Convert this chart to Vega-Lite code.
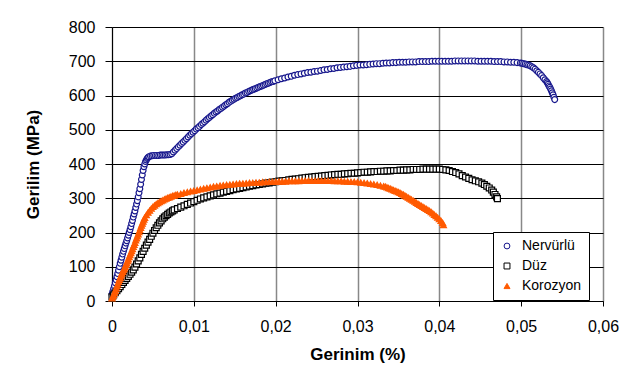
{
  "$schema": "https://vega.github.io/schema/vega-lite/v6.json",
  "width": 491,
  "height": 274,
  "autosize": {"type": "none"},
  "padding": {"left": 112, "top": 27, "right": 29, "bottom": 77},
  "background": "white",
  "config": {
    "font": "Liberation Sans",
    "view": {"stroke": null},
    "axis": {"labelFont": "Liberation Sans", "titleFont": "Liberation Sans", "labelColor": "black", "titleColor": "black", "domainColor": "black", "tickColor": "black", "labelFontSize": 16, "titleFontSize": 17, "titleFontWeight": "bold"},
    "legend": {"strokeColor": "black", "fillColor": "white", "padding": 7, "labelFont": "Liberation Sans", "labelFontSize": 14, "labelColor": "black", "symbolStrokeWidth": 1, "rowPadding": 6, "labelOffset": 8, "cornerRadius": 0}
  },
  "data": {"values": [
{"s":"Nervürlü","x":0,"y":20},{"s":"Nervürlü","x":0.0001,"y":28},{"s":"Nervürlü","x":0.0002,"y":36},{"s":"Nervürlü","x":0.0003,"y":44},{"s":"Nervürlü","x":0.0004,"y":53},{"s":"Nervürlü","x":0.0005,"y":62},{"s":"Nervürlü","x":0.0006,"y":71},{"s":"Nervürlü","x":0.0007,"y":80},{"s":"Nervürlü","x":0.0008,"y":90},{"s":"Nervürlü","x":0.0009,"y":100},{"s":"Nervürlü","x":0.001,"y":110},{"s":"Nervürlü","x":0.0011,"y":119},{"s":"Nervürlü","x":0.0012,"y":128},{"s":"Nervürlü","x":0.0013,"y":137},{"s":"Nervürlü","x":0.0014,"y":145},{"s":"Nervürlü","x":0.0015,"y":153},{"s":"Nervürlü","x":0.0016,"y":161},{"s":"Nervürlü","x":0.0017,"y":169},{"s":"Nervürlü","x":0.0018,"y":176},{"s":"Nervürlü","x":0.0019,"y":184},{"s":"Nervürlü","x":0.002,"y":192},{"s":"Nervürlü","x":0.0021,"y":200},{"s":"Nervürlü","x":0.0022,"y":208},{"s":"Nervürlü","x":0.0023,"y":217},{"s":"Nervürlü","x":0.0024,"y":226},{"s":"Nervürlü","x":0.0025,"y":235},{"s":"Nervürlü","x":0.0026,"y":245},{"s":"Nervürlü","x":0.0027,"y":254},{"s":"Nervürlü","x":0.0028,"y":263},{"s":"Nervürlü","x":0.0029,"y":273},{"s":"Nervürlü","x":0.003,"y":283},{"s":"Nervürlü","x":0.0031,"y":293},{"s":"Nervürlü","x":0.0032,"y":304},{"s":"Nervürlü","x":0.0033,"y":316},{"s":"Nervürlü","x":0.0034,"y":328},{"s":"Nervürlü","x":0.0035,"y":341},{"s":"Nervürlü","x":0.0036,"y":355},{"s":"Nervürlü","x":0.0037,"y":368},{"s":"Nervürlü","x":0.0038,"y":381},{"s":"Nervürlü","x":0.0039,"y":392},{"s":"Nervürlü","x":0.004,"y":400},{"s":"Nervürlü","x":0.0041,"y":407},{"s":"Nervürlü","x":0.0042,"y":412},{"s":"Nervürlü","x":0.0043,"y":416},{"s":"Nervürlü","x":0.0044,"y":419},{"s":"Nervürlü","x":0.0045,"y":421},{"s":"Nervürlü","x":0.0047,"y":423},{"s":"Nervürlü","x":0.0049,"y":424},{"s":"Nervürlü","x":0.0051,"y":425},{"s":"Nervürlü","x":0.0053,"y":425},{"s":"Nervürlü","x":0.0055,"y":425},{"s":"Nervürlü","x":0.0057,"y":425},{"s":"Nervürlü","x":0.0059,"y":426},{"s":"Nervürlü","x":0.0061,"y":426},{"s":"Nervürlü","x":0.0063,"y":426},{"s":"Nervürlü","x":0.0065,"y":426},{"s":"Nervürlü","x":0.0067,"y":427},{"s":"Nervürlü","x":0.0069,"y":427},{"s":"Nervürlü","x":0.0071,"y":428},{"s":"Nervürlü","x":0.0073,"y":430},{"s":"Nervürlü","x":0.0075,"y":435},{"s":"Nervürlü","x":0.0077,"y":440},{"s":"Nervürlü","x":0.0079,"y":445},{"s":"Nervürlü","x":0.0081,"y":450},{"s":"Nervürlü","x":0.0083,"y":455},{"s":"Nervürlü","x":0.0085,"y":460},{"s":"Nervürlü","x":0.0087,"y":464},{"s":"Nervürlü","x":0.0089,"y":469},{"s":"Nervürlü","x":0.0091,"y":474},{"s":"Nervürlü","x":0.0093,"y":479},{"s":"Nervürlü","x":0.0095,"y":484},{"s":"Nervürlü","x":0.0097,"y":488},{"s":"Nervürlü","x":0.0099,"y":493},{"s":"Nervürlü","x":0.0101,"y":497},{"s":"Nervürlü","x":0.0103,"y":502},{"s":"Nervürlü","x":0.0105,"y":506},{"s":"Nervürlü","x":0.0107,"y":510},{"s":"Nervürlü","x":0.0109,"y":515},{"s":"Nervürlü","x":0.0111,"y":519},{"s":"Nervürlü","x":0.0113,"y":523},{"s":"Nervürlü","x":0.0115,"y":528},{"s":"Nervürlü","x":0.0117,"y":532},{"s":"Nervürlü","x":0.0119,"y":536},{"s":"Nervürlü","x":0.0121,"y":540},{"s":"Nervürlü","x":0.0123,"y":544},{"s":"Nervürlü","x":0.0125,"y":548},{"s":"Nervürlü","x":0.0127,"y":552},{"s":"Nervürlü","x":0.0129,"y":555},{"s":"Nervürlü","x":0.0131,"y":559},{"s":"Nervürlü","x":0.0133,"y":562},{"s":"Nervürlü","x":0.0135,"y":566},{"s":"Nervürlü","x":0.0137,"y":569},{"s":"Nervürlü","x":0.0139,"y":573},{"s":"Nervürlü","x":0.0141,"y":576},{"s":"Nervürlü","x":0.0143,"y":580},{"s":"Nervürlü","x":0.0145,"y":583},{"s":"Nervürlü","x":0.0147,"y":586},{"s":"Nervürlü","x":0.0149,"y":589},{"s":"Nervürlü","x":0.0151,"y":592},{"s":"Nervürlü","x":0.0153,"y":594},{"s":"Nervürlü","x":0.0155,"y":597},{"s":"Nervürlü","x":0.0157,"y":599},{"s":"Nervürlü","x":0.0159,"y":602},{"s":"Nervürlü","x":0.0161,"y":604},{"s":"Nervürlü","x":0.0163,"y":607},{"s":"Nervürlü","x":0.0165,"y":609},{"s":"Nervürlü","x":0.0167,"y":612},{"s":"Nervürlü","x":0.0169,"y":614},{"s":"Nervürlü","x":0.0171,"y":616},{"s":"Nervürlü","x":0.0173,"y":618},{"s":"Nervürlü","x":0.0175,"y":620},{"s":"Nervürlü","x":0.0177,"y":622},{"s":"Nervürlü","x":0.0179,"y":624},{"s":"Nervürlü","x":0.0181,"y":626},{"s":"Nervürlü","x":0.0183,"y":628},{"s":"Nervürlü","x":0.0185,"y":630},{"s":"Nervürlü","x":0.0187,"y":632},{"s":"Nervürlü","x":0.0189,"y":634},{"s":"Nervürlü","x":0.0191,"y":636},{"s":"Nervürlü","x":0.0193,"y":638},{"s":"Nervürlü","x":0.0195,"y":640},{"s":"Nervürlü","x":0.0197,"y":641},{"s":"Nervürlü","x":0.0199,"y":643},{"s":"Nervürlü","x":0.0203,"y":646},{"s":"Nervürlü","x":0.0207,"y":649},{"s":"Nervürlü","x":0.0211,"y":651},{"s":"Nervürlü","x":0.0215,"y":654},{"s":"Nervürlü","x":0.0219,"y":656},{"s":"Nervürlü","x":0.0223,"y":659},{"s":"Nervürlü","x":0.0227,"y":661},{"s":"Nervürlü","x":0.0231,"y":663},{"s":"Nervürlü","x":0.0235,"y":665},{"s":"Nervürlü","x":0.0239,"y":667},{"s":"Nervürlü","x":0.0243,"y":668},{"s":"Nervürlü","x":0.0247,"y":670},{"s":"Nervürlü","x":0.0251,"y":671},{"s":"Nervürlü","x":0.0255,"y":673},{"s":"Nervürlü","x":0.0259,"y":675},{"s":"Nervürlü","x":0.0263,"y":676},{"s":"Nervürlü","x":0.0267,"y":678},{"s":"Nervürlü","x":0.0271,"y":679},{"s":"Nervürlü","x":0.0275,"y":681},{"s":"Nervürlü","x":0.0279,"y":682},{"s":"Nervürlü","x":0.0283,"y":683},{"s":"Nervürlü","x":0.0287,"y":684},{"s":"Nervürlü","x":0.0291,"y":685},{"s":"Nervürlü","x":0.0295,"y":687},{"s":"Nervürlü","x":0.0299,"y":688},{"s":"Nervürlü","x":0.0303,"y":689},{"s":"Nervürlü","x":0.0307,"y":689},{"s":"Nervürlü","x":0.0311,"y":690},{"s":"Nervürlü","x":0.0315,"y":691},{"s":"Nervürlü","x":0.0319,"y":692},{"s":"Nervürlü","x":0.0323,"y":693},{"s":"Nervürlü","x":0.0327,"y":693},{"s":"Nervürlü","x":0.0331,"y":694},{"s":"Nervürlü","x":0.0335,"y":695},{"s":"Nervürlü","x":0.0339,"y":695},{"s":"Nervürlü","x":0.0343,"y":696},{"s":"Nervürlü","x":0.0347,"y":696},{"s":"Nervürlü","x":0.0351,"y":697},{"s":"Nervürlü","x":0.0355,"y":697},{"s":"Nervürlü","x":0.0359,"y":697},{"s":"Nervürlü","x":0.0363,"y":698},{"s":"Nervürlü","x":0.0367,"y":698},{"s":"Nervürlü","x":0.0371,"y":698},{"s":"Nervürlü","x":0.0375,"y":699},{"s":"Nervürlü","x":0.0379,"y":699},{"s":"Nervürlü","x":0.0383,"y":699},{"s":"Nervürlü","x":0.0387,"y":699},{"s":"Nervürlü","x":0.0391,"y":700},{"s":"Nervürlü","x":0.0395,"y":700},{"s":"Nervürlü","x":0.0399,"y":700},{"s":"Nervürlü","x":0.0403,"y":700},{"s":"Nervürlü","x":0.0407,"y":700},{"s":"Nervürlü","x":0.0411,"y":700},{"s":"Nervürlü","x":0.0415,"y":700},{"s":"Nervürlü","x":0.0419,"y":701},{"s":"Nervürlü","x":0.0423,"y":701},{"s":"Nervürlü","x":0.0427,"y":701},{"s":"Nervürlü","x":0.0431,"y":701},{"s":"Nervürlü","x":0.0435,"y":701},{"s":"Nervürlü","x":0.0439,"y":701},{"s":"Nervürlü","x":0.0443,"y":701},{"s":"Nervürlü","x":0.0447,"y":700},{"s":"Nervürlü","x":0.0451,"y":700},{"s":"Nervürlü","x":0.0455,"y":700},{"s":"Nervürlü","x":0.0459,"y":700},{"s":"Nervürlü","x":0.0463,"y":700},{"s":"Nervürlü","x":0.0467,"y":699},{"s":"Nervürlü","x":0.0471,"y":699},{"s":"Nervürlü","x":0.0475,"y":699},{"s":"Nervürlü","x":0.0479,"y":698},{"s":"Nervürlü","x":0.0483,"y":698},{"s":"Nervürlü","x":0.0487,"y":697},{"s":"Nervürlü","x":0.0491,"y":697},{"s":"Nervürlü","x":0.0495,"y":696},{"s":"Nervürlü","x":0.0499,"y":695},{"s":"Nervürlü","x":0.0501,"y":694},{"s":"Nervürlü","x":0.0503,"y":693},{"s":"Nervürlü","x":0.0505,"y":692},{"s":"Nervürlü","x":0.0507,"y":690},{"s":"Nervürlü","x":0.0509,"y":689},{"s":"Nervürlü","x":0.0511,"y":687},{"s":"Nervürlü","x":0.0513,"y":684},{"s":"Nervürlü","x":0.0515,"y":681},{"s":"Nervürlü","x":0.0517,"y":677},{"s":"Nervürlü","x":0.0519,"y":672},{"s":"Nervürlü","x":0.0521,"y":668},{"s":"Nervürlü","x":0.0523,"y":663},{"s":"Nervürlü","x":0.0525,"y":658},{"s":"Nervürlü","x":0.0527,"y":652},{"s":"Nervürlü","x":0.0529,"y":646},{"s":"Nervürlü","x":0.0531,"y":641},{"s":"Nervürlü","x":0.0532,"y":637},{"s":"Nervürlü","x":0.0533,"y":633},{"s":"Nervürlü","x":0.0534,"y":628},{"s":"Nervürlü","x":0.0535,"y":624},{"s":"Nervürlü","x":0.0536,"y":619},{"s":"Nervürlü","x":0.0537,"y":614},{"s":"Nervürlü","x":0.0538,"y":608},{"s":"Nervürlü","x":0.0539,"y":602},{"s":"Nervürlü","x":0.054,"y":595},{"s":"Nervürlü","x":0.0541,"y":588},
{"s":"Düz","x":0,"y":12},{"s":"Düz","x":0.0002,"y":18},{"s":"Düz","x":0.0004,"y":24},{"s":"Düz","x":0.0006,"y":30},{"s":"Düz","x":0.0008,"y":36},{"s":"Düz","x":0.001,"y":42},{"s":"Düz","x":0.0012,"y":48},{"s":"Düz","x":0.0014,"y":54},{"s":"Düz","x":0.0016,"y":60},{"s":"Düz","x":0.0018,"y":66},{"s":"Düz","x":0.002,"y":72},{"s":"Düz","x":0.0022,"y":78},{"s":"Düz","x":0.0024,"y":84},{"s":"Düz","x":0.0026,"y":91},{"s":"Düz","x":0.0028,"y":99},{"s":"Düz","x":0.003,"y":108},{"s":"Düz","x":0.0032,"y":117},{"s":"Düz","x":0.0034,"y":126},{"s":"Düz","x":0.0036,"y":136},{"s":"Düz","x":0.0038,"y":145},{"s":"Düz","x":0.004,"y":154},{"s":"Düz","x":0.0042,"y":163},{"s":"Düz","x":0.0044,"y":172},{"s":"Düz","x":0.0046,"y":180},{"s":"Düz","x":0.0048,"y":189},{"s":"Düz","x":0.005,"y":198},{"s":"Düz","x":0.0052,"y":206},{"s":"Düz","x":0.0054,"y":214},{"s":"Düz","x":0.0056,"y":221},{"s":"Düz","x":0.0058,"y":228},{"s":"Düz","x":0.006,"y":234},{"s":"Düz","x":0.0062,"y":240},{"s":"Düz","x":0.0064,"y":245},{"s":"Düz","x":0.0066,"y":249},{"s":"Düz","x":0.0068,"y":253},{"s":"Düz","x":0.007,"y":257},{"s":"Düz","x":0.0072,"y":260},{"s":"Düz","x":0.0074,"y":263},{"s":"Düz","x":0.0076,"y":266},{"s":"Düz","x":0.008,"y":270},{"s":"Düz","x":0.0084,"y":274},{"s":"Düz","x":0.0088,"y":278},{"s":"Düz","x":0.0092,"y":282},{"s":"Düz","x":0.0096,"y":286},{"s":"Düz","x":0.01,"y":290},{"s":"Düz","x":0.0104,"y":294},{"s":"Düz","x":0.0108,"y":298},{"s":"Düz","x":0.0112,"y":301},{"s":"Düz","x":0.0116,"y":304},{"s":"Düz","x":0.012,"y":307},{"s":"Düz","x":0.0124,"y":310},{"s":"Düz","x":0.0128,"y":313},{"s":"Düz","x":0.0132,"y":315},{"s":"Düz","x":0.0136,"y":318},{"s":"Düz","x":0.014,"y":320},{"s":"Düz","x":0.0144,"y":322},{"s":"Düz","x":0.0148,"y":325},{"s":"Düz","x":0.0152,"y":327},{"s":"Düz","x":0.0156,"y":329},{"s":"Düz","x":0.016,"y":331},{"s":"Düz","x":0.0164,"y":333},{"s":"Düz","x":0.0168,"y":335},{"s":"Düz","x":0.0172,"y":337},{"s":"Düz","x":0.0176,"y":339},{"s":"Düz","x":0.018,"y":340},{"s":"Düz","x":0.0184,"y":342},{"s":"Düz","x":0.0188,"y":344},{"s":"Düz","x":0.0192,"y":345},{"s":"Düz","x":0.0196,"y":347},{"s":"Düz","x":0.02,"y":348},{"s":"Düz","x":0.0204,"y":350},{"s":"Düz","x":0.0208,"y":351},{"s":"Düz","x":0.0212,"y":352},{"s":"Düz","x":0.0216,"y":354},{"s":"Düz","x":0.022,"y":355},{"s":"Düz","x":0.0224,"y":356},{"s":"Düz","x":0.0228,"y":357},{"s":"Düz","x":0.0232,"y":359},{"s":"Düz","x":0.0236,"y":360},{"s":"Düz","x":0.024,"y":361},{"s":"Düz","x":0.0244,"y":362},{"s":"Düz","x":0.0248,"y":363},{"s":"Düz","x":0.0252,"y":364},{"s":"Düz","x":0.0256,"y":365},{"s":"Düz","x":0.026,"y":366},{"s":"Düz","x":0.0264,"y":367},{"s":"Düz","x":0.0268,"y":368},{"s":"Düz","x":0.0272,"y":369},{"s":"Düz","x":0.0276,"y":370},{"s":"Düz","x":0.028,"y":370},{"s":"Düz","x":0.0284,"y":371},{"s":"Düz","x":0.0288,"y":372},{"s":"Düz","x":0.0292,"y":373},{"s":"Düz","x":0.0296,"y":373},{"s":"Düz","x":0.03,"y":374},{"s":"Düz","x":0.0304,"y":375},{"s":"Düz","x":0.0308,"y":376},{"s":"Düz","x":0.0312,"y":376},{"s":"Düz","x":0.0316,"y":377},{"s":"Düz","x":0.032,"y":378},{"s":"Düz","x":0.0324,"y":378},{"s":"Düz","x":0.0328,"y":379},{"s":"Düz","x":0.0332,"y":379},{"s":"Düz","x":0.0336,"y":380},{"s":"Düz","x":0.034,"y":380},{"s":"Düz","x":0.0344,"y":381},{"s":"Düz","x":0.0348,"y":381},{"s":"Düz","x":0.0352,"y":382},{"s":"Düz","x":0.0356,"y":382},{"s":"Düz","x":0.036,"y":383},{"s":"Düz","x":0.0364,"y":383},{"s":"Düz","x":0.0368,"y":384},{"s":"Düz","x":0.0372,"y":384},{"s":"Düz","x":0.0376,"y":384},{"s":"Düz","x":0.038,"y":385},{"s":"Düz","x":0.0384,"y":385},{"s":"Düz","x":0.0388,"y":385},{"s":"Düz","x":0.0392,"y":385},{"s":"Düz","x":0.0396,"y":385},{"s":"Düz","x":0.04,"y":385},{"s":"Düz","x":0.0404,"y":384},{"s":"Düz","x":0.0408,"y":383},{"s":"Düz","x":0.0412,"y":381},{"s":"Düz","x":0.0416,"y":378},{"s":"Düz","x":0.042,"y":375},{"s":"Düz","x":0.0424,"y":371},{"s":"Düz","x":0.0428,"y":366},{"s":"Düz","x":0.0432,"y":362},{"s":"Düz","x":0.0436,"y":358},{"s":"Düz","x":0.044,"y":354},{"s":"Düz","x":0.0444,"y":351},{"s":"Düz","x":0.0448,"y":348},{"s":"Düz","x":0.0452,"y":344},{"s":"Düz","x":0.0455,"y":340},{"s":"Düz","x":0.0458,"y":335},{"s":"Düz","x":0.0461,"y":330},{"s":"Düz","x":0.0464,"y":324},{"s":"Düz","x":0.0466,"y":318},{"s":"Düz","x":0.0468,"y":311},{"s":"Düz","x":0.047,"y":304},{"s":"Düz","x":0.0471,"y":299},
{"s":"Korozyon","x":0,"y":8},{"s":"Korozyon","x":0.0001,"y":13},{"s":"Korozyon","x":0.0002,"y":18},{"s":"Korozyon","x":0.0003,"y":24},{"s":"Korozyon","x":0.0004,"y":30},{"s":"Korozyon","x":0.0005,"y":36},{"s":"Korozyon","x":0.0006,"y":43},{"s":"Korozyon","x":0.0007,"y":49},{"s":"Korozyon","x":0.0008,"y":56},{"s":"Korozyon","x":0.0009,"y":62},{"s":"Korozyon","x":0.001,"y":68},{"s":"Korozyon","x":0.0011,"y":74},{"s":"Korozyon","x":0.0012,"y":80},{"s":"Korozyon","x":0.0013,"y":85},{"s":"Korozyon","x":0.0014,"y":90},{"s":"Korozyon","x":0.0015,"y":95},{"s":"Korozyon","x":0.0016,"y":100},{"s":"Korozyon","x":0.0017,"y":106},{"s":"Korozyon","x":0.0018,"y":111},{"s":"Korozyon","x":0.0019,"y":117},{"s":"Korozyon","x":0.002,"y":122},{"s":"Korozyon","x":0.0021,"y":128},{"s":"Korozyon","x":0.0022,"y":134},{"s":"Korozyon","x":0.0023,"y":140},{"s":"Korozyon","x":0.0024,"y":146},{"s":"Korozyon","x":0.0025,"y":152},{"s":"Korozyon","x":0.0026,"y":158},{"s":"Korozyon","x":0.0027,"y":164},{"s":"Korozyon","x":0.0028,"y":170},{"s":"Korozyon","x":0.0029,"y":177},{"s":"Korozyon","x":0.003,"y":183},{"s":"Korozyon","x":0.0031,"y":189},{"s":"Korozyon","x":0.0032,"y":195},{"s":"Korozyon","x":0.0033,"y":201},{"s":"Korozyon","x":0.0034,"y":207},{"s":"Korozyon","x":0.0035,"y":214},{"s":"Korozyon","x":0.0036,"y":220},{"s":"Korozyon","x":0.0037,"y":226},{"s":"Korozyon","x":0.0038,"y":232},{"s":"Korozyon","x":0.0039,"y":238},{"s":"Korozyon","x":0.004,"y":243},{"s":"Korozyon","x":0.0042,"y":251},{"s":"Korozyon","x":0.0044,"y":258},{"s":"Korozyon","x":0.0046,"y":264},{"s":"Korozyon","x":0.0048,"y":270},{"s":"Korozyon","x":0.005,"y":275},{"s":"Korozyon","x":0.0052,"y":279},{"s":"Korozyon","x":0.0054,"y":283},{"s":"Korozyon","x":0.0056,"y":286},{"s":"Korozyon","x":0.0058,"y":289},{"s":"Korozyon","x":0.006,"y":292},{"s":"Korozyon","x":0.0062,"y":294},{"s":"Korozyon","x":0.0064,"y":297},{"s":"Korozyon","x":0.0066,"y":299},{"s":"Korozyon","x":0.0068,"y":301},{"s":"Korozyon","x":0.007,"y":303},{"s":"Korozyon","x":0.0072,"y":305},{"s":"Korozyon","x":0.0074,"y":307},{"s":"Korozyon","x":0.0076,"y":308},{"s":"Korozyon","x":0.0078,"y":310},{"s":"Korozyon","x":0.008,"y":311},{"s":"Korozyon","x":0.0084,"y":313},{"s":"Korozyon","x":0.0088,"y":316},{"s":"Korozyon","x":0.0092,"y":318},{"s":"Korozyon","x":0.0096,"y":320},{"s":"Korozyon","x":0.01,"y":322},{"s":"Korozyon","x":0.0104,"y":324},{"s":"Korozyon","x":0.0108,"y":326},{"s":"Korozyon","x":0.0112,"y":328},{"s":"Korozyon","x":0.0116,"y":330},{"s":"Korozyon","x":0.012,"y":332},{"s":"Korozyon","x":0.0124,"y":334},{"s":"Korozyon","x":0.0128,"y":335},{"s":"Korozyon","x":0.0132,"y":337},{"s":"Korozyon","x":0.0136,"y":338},{"s":"Korozyon","x":0.014,"y":339},{"s":"Korozyon","x":0.0144,"y":340},{"s":"Korozyon","x":0.0148,"y":341},{"s":"Korozyon","x":0.0152,"y":342},{"s":"Korozyon","x":0.0156,"y":343},{"s":"Korozyon","x":0.016,"y":343},{"s":"Korozyon","x":0.0164,"y":344},{"s":"Korozyon","x":0.0168,"y":345},{"s":"Korozyon","x":0.0172,"y":345},{"s":"Korozyon","x":0.0176,"y":346},{"s":"Korozyon","x":0.018,"y":346},{"s":"Korozyon","x":0.0184,"y":347},{"s":"Korozyon","x":0.0188,"y":347},{"s":"Korozyon","x":0.0192,"y":348},{"s":"Korozyon","x":0.0196,"y":348},{"s":"Korozyon","x":0.02,"y":348},{"s":"Korozyon","x":0.0204,"y":349},{"s":"Korozyon","x":0.0208,"y":349},{"s":"Korozyon","x":0.0212,"y":349},{"s":"Korozyon","x":0.0216,"y":350},{"s":"Korozyon","x":0.022,"y":350},{"s":"Korozyon","x":0.0224,"y":350},{"s":"Korozyon","x":0.0228,"y":350},{"s":"Korozyon","x":0.0232,"y":351},{"s":"Korozyon","x":0.0236,"y":351},{"s":"Korozyon","x":0.024,"y":351},{"s":"Korozyon","x":0.0244,"y":351},{"s":"Korozyon","x":0.0248,"y":351},{"s":"Korozyon","x":0.0252,"y":351},{"s":"Korozyon","x":0.0256,"y":351},{"s":"Korozyon","x":0.026,"y":351},{"s":"Korozyon","x":0.0264,"y":351},{"s":"Korozyon","x":0.0268,"y":351},{"s":"Korozyon","x":0.0272,"y":350},{"s":"Korozyon","x":0.0276,"y":350},{"s":"Korozyon","x":0.028,"y":350},{"s":"Korozyon","x":0.0284,"y":349},{"s":"Korozyon","x":0.0288,"y":349},{"s":"Korozyon","x":0.0292,"y":348},{"s":"Korozyon","x":0.0296,"y":348},{"s":"Korozyon","x":0.03,"y":347},{"s":"Korozyon","x":0.0304,"y":346},{"s":"Korozyon","x":0.0308,"y":345},{"s":"Korozyon","x":0.0312,"y":344},{"s":"Korozyon","x":0.0316,"y":342},{"s":"Korozyon","x":0.032,"y":341},{"s":"Korozyon","x":0.0324,"y":339},{"s":"Korozyon","x":0.0328,"y":337},{"s":"Korozyon","x":0.0332,"y":335},{"s":"Korozyon","x":0.0334,"y":334},{"s":"Korozyon","x":0.0336,"y":332},{"s":"Korozyon","x":0.0338,"y":330},{"s":"Korozyon","x":0.034,"y":328},{"s":"Korozyon","x":0.0342,"y":326},{"s":"Korozyon","x":0.0344,"y":324},{"s":"Korozyon","x":0.0346,"y":322},{"s":"Korozyon","x":0.0348,"y":320},{"s":"Korozyon","x":0.035,"y":318},{"s":"Korozyon","x":0.0352,"y":316},{"s":"Korozyon","x":0.0354,"y":313},{"s":"Korozyon","x":0.0356,"y":311},{"s":"Korozyon","x":0.0358,"y":308},{"s":"Korozyon","x":0.036,"y":305},{"s":"Korozyon","x":0.0362,"y":302},{"s":"Korozyon","x":0.0364,"y":299},{"s":"Korozyon","x":0.0366,"y":296},{"s":"Korozyon","x":0.0368,"y":293},{"s":"Korozyon","x":0.037,"y":290},{"s":"Korozyon","x":0.0372,"y":287},{"s":"Korozyon","x":0.0374,"y":284},{"s":"Korozyon","x":0.0376,"y":281},{"s":"Korozyon","x":0.0378,"y":278},{"s":"Korozyon","x":0.038,"y":275},{"s":"Korozyon","x":0.0382,"y":272},{"s":"Korozyon","x":0.0384,"y":269},{"s":"Korozyon","x":0.0386,"y":266},{"s":"Korozyon","x":0.0388,"y":263},{"s":"Korozyon","x":0.039,"y":260},{"s":"Korozyon","x":0.0392,"y":256},{"s":"Korozyon","x":0.0394,"y":252},{"s":"Korozyon","x":0.0396,"y":248},{"s":"Korozyon","x":0.0398,"y":244},{"s":"Korozyon","x":0.04,"y":239},{"s":"Korozyon","x":0.0402,"y":234},{"s":"Korozyon","x":0.0404,"y":228},{"s":"Korozyon","x":0.0405,"y":222}
  ]},
  "mark": {"type": "point", "strokeWidth": 1.2, "opacity": 1},
  "encoding": {
    "x": {"field": "x", "type": "quantitative", "scale": {"domain": [0, 0.06], "nice": false},
      "axis": {"title": "Gerinim (%)", "values": [0, 0.01, 0.02, 0.03, 0.04, 0.05, 0.06], "labelExpr": "datum.value == 0 ? '0' : replace(format(datum.value, '.2f'), '.', ',')", "labelFlush": false, "tickSize": 5, "labelPadding": 12, "titlePadding": 12, "grid": true, "gridColor": "#888888", "gridWidth": 1.5}},
    "y": {"field": "y", "type": "quantitative", "scale": {"domain": [0, 800], "nice": false},
      "axis": {"title": "Gerilim (MPa)", "values": [0, 100, 200, 300, 400, 500, 600, 700, 800], "labelFlush": false, "tickSize": 7, "labelPadding": 10, "titlePadding": 26, "grid": true, "gridColor": "black", "gridWidth": 1}},
    "stroke": {"field": "s", "type": "nominal", "scale": {"domain": ["Nervürlü", "Düz", "Korozyon"], "range": ["#16168c", "#000000", "#ff5a00"]},
      "legend": {"title": null, "orient": "none", "legendX": 381, "legendY": 205}},
    "fill": {"field": "s", "type": "nominal", "scale": {"domain": ["Nervürlü", "Düz", "Korozyon"], "range": ["white", "white", "#ff5a00"]},
      "legend": {"title": null, "orient": "none", "legendX": 381, "legendY": 205}},
    "shape": {"field": "s", "type": "nominal", "scale": {"domain": ["Nervürlü", "Düz", "Korozyon"], "range": ["circle", "square", "triangle-up"]},
      "legend": {"title": null, "orient": "none", "legendX": 381, "legendY": 205}},
    "size": {"field": "s", "type": "nominal", "scale": {"domain": ["Nervürlü", "Düz", "Korozyon"], "range": [34, 36, 50]},
      "legend": {"title": null, "orient": "none", "legendX": 381, "legendY": 205}}
  }
}
